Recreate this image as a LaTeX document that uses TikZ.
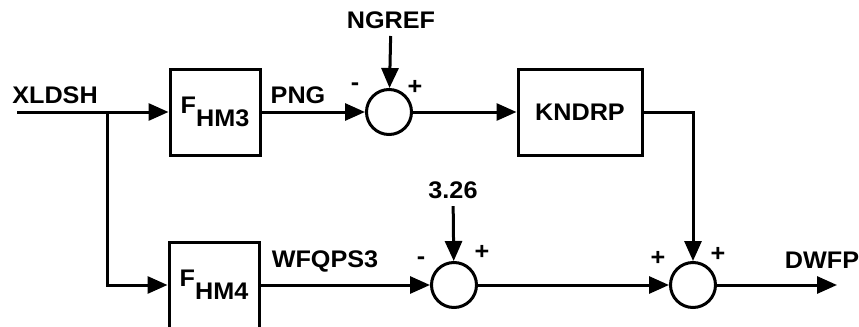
\documentclass[tikz,border=0pt]{standalone}
\usepackage{fontspec}
\setmainfont{Liberation Sans}[FakeStretch=1.05]
\usetikzlibrary{arrows.meta}

\begin{document}
\begin{tikzpicture}[
  x=0.5pt, y=-0.5pt,
  font=\fontsize{12}{14}\selectfont\bfseries,
  line width=1.5pt,
  box/.style={
    draw, rectangle,
    minimum width=45pt, minimum height=43pt,
    inner sep=2pt
  },
  sum/.style={draw, circle, minimum size=22.5pt, inner sep=0pt},
  lbl/.style={inner sep=3pt},
  sgn/.style={inner sep=0pt},
  arr/.style={-{Triangle[length=10pt,width=8.5pt]}},
]
\useasboundingbox (0,0) rectangle (859,327);

\node[box] (fhm3) at (215,112) {\raisebox{1.5pt}{F}\raisebox{-5pt}{HM3}};
\node[box] (fhm4) at (214,285) {\raisebox{1.5pt}{F}\raisebox{-5pt}{HM4}};
\node[box, minimum width=62pt] (kndrp) at (580,112) {KNDRP};
\node[sum] (sumng)  at (389,112) {};
\node[sum] (sumwf)  at (454,285) {};
\node[sum] (sumout) at (693,285) {};

\node[lbl] (xldsh) at (55,95)   {XLDSH};
\node[lbl] (png)   at (298,95)  {PNG};
\node[lbl] (ngref) at (391,20)  {NGREF};
\node[lbl] (c326)  at (453,190) {3.26};
\node[lbl] (wfq)   at (325,261) {WFQPS3};
\node[lbl] (dwfp)  at (822,260) {DWFP};

\node[sgn] (s1) at (355,87)  {-};
\node[sgn] (s2) at (415,87)  {+};
\node[sgn] (s3) at (421,261) {-};
\node[sgn] (s4) at (482,252) {+};
\node[sgn] (s5) at (658,258) {+};
\node[sgn] (s6) at (718,254) {+};

\coordinate (in)    at (17,112);
\coordinate (split) at (107,112);
\coordinate (out)   at (837,285);

\draw[arr] (in) -- (fhm3);
\draw[arr] (split) |- (fhm4);
\draw[arr] (fhm3) -- (sumng);
\draw[arr] (ngref) -- (sumng);
\draw[arr] (sumng) -- (kndrp);
\draw[arr] (kndrp) -| (sumout);
\draw[arr] (fhm4) -- (sumwf);
\draw[arr] (c326) -- (sumwf);
\draw[arr] (sumwf) -- (sumout);
\draw[arr] (sumout) -- (out);

\end{tikzpicture}
\end{document}
